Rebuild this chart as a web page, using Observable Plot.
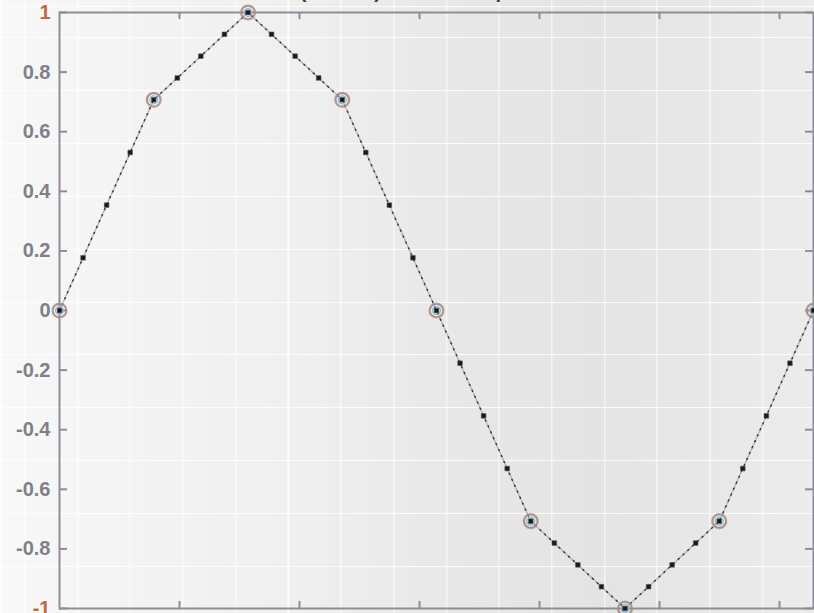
<!DOCTYPE html>
<html>
<head>
<meta charset="utf-8">
<script src="https://cdn.jsdelivr.net/npm/d3@7"></script>
<script src="https://cdn.jsdelivr.net/npm/@observablehq/plot@0.6"></script>
<style>
  html, body { margin: 0; padding: 0; }
  #chart {
    position: relative;
    width: 814px; height: 613px; overflow: hidden;
    background-color: #f2f2f2;
    background-image:
      repeating-linear-gradient(to right, rgba(255,255,255,0.85) 0 1px, transparent 1px 52.7px),
      repeating-linear-gradient(to bottom, rgba(255,255,255,0.85) 0 1px, transparent 1px 52.9px),
      linear-gradient(to right, #f8f8f8 0px, #f4f4f4 120px, #efefef 300px, #e7e7e7 470px, #e4e4e4 600px, #e8e8e8 720px, #ececec 814px);
    background-position: 24.3px 0, 0 37px, 0 0;
    font-family: "Liberation Sans", Arial, sans-serif;
  }
</style>
</head>
<body>
<div id="chart"></div>
<script>
// Original samples (x = 0 : pi/4 : 2pi, y = sin x)
const sampleX = [0, 0.7854, 1.5708, 2.3562, 3.1416, 3.9270, 4.7124, 5.4978, 6.2832];
const sampleY = [0, 0.7071, 1, 0.7071, 0, -0.7071, -1, -0.7071, 0];

// Query points (pi/16 steps) and their linearly interpolated values
const queryX = [0, 0.1963, 0.3927, 0.5890, 0.7854, 0.9817, 1.1781, 1.3744, 1.5708,
  1.7671, 1.9635, 2.1598, 2.3562, 2.5525, 2.7489, 2.9452, 3.1416,
  3.3379, 3.5343, 3.7306, 3.9270, 4.1233, 4.3197, 4.5160, 4.7124,
  4.9087, 5.1051, 5.3014, 5.4978, 5.6941, 5.8905, 6.0868, 6.2832];
const queryY = [0, 0.1768, 0.3536, 0.5303, 0.7071, 0.7803, 0.8536, 0.9268, 1,
  0.9268, 0.8536, 0.7803, 0.7071, 0.5303, 0.3536, 0.1768, 0,
  -0.1768, -0.3536, -0.5303, -0.7071, -0.7803, -0.8536, -0.9268, -1,
  -0.9268, -0.8536, -0.7803, -0.7071, -0.5303, -0.3536, -0.1768, 0];

// Axis ticks
const yTicks = [1, 0.8, 0.6, 0.4, 0.2, 0, -0.2, -0.4, -0.6, -0.8, -1];
const yTickLabels = ["1", "0.8", "0.6", "0.4", "0.2", "0", "-0.2", "-0.4", "-0.6", "-0.8", "-1"];
const xTicks = [1, 2, 3, 4, 5, 6];
const titleText = "(Default) Linear Interpolation";

const samples = sampleX.map((x, i) => ({x, y: sampleY[i]}));
const queries = queryX.map((x, i) => ({x, y: queryY[i]}));
const labelOf = new Map(yTicks.map((t, i) => [t, yTickLabels[i]]));

const axisGray = "#8d8d98";

const plot = Plot.plot({
  width: 814,
  height: 613,
  marginLeft: 59,
  marginRight: 1,
  marginTop: 12,
  marginBottom: 5,
  style: {background: "transparent", fontFamily: "'Liberation Sans', Arial, sans-serif", overflow: "visible"},
  x: {domain: [0, 6.2832], axis: null},
  y: {domain: [-1, 1], axis: null},
  marks: [
    // inward tick marks
    Plot.tickY(yTicks, {y: d => d, insetRight: 746, stroke: axisGray, strokeWidth: 2}),
    Plot.tickY(yTicks, {y: d => d, insetLeft: 746, stroke: axisGray, strokeWidth: 2}),
    Plot.tickX(xTicks, {x: d => d, insetBottom: 589, stroke: axisGray, strokeWidth: 2}),
    Plot.tickX(xTicks, {x: d => d, insetTop: 589, stroke: axisGray, strokeWidth: 2}),
    Plot.frame({stroke: axisGray, strokeWidth: 2}),
    Plot.axisY(yTicks, {
      anchor: "left", label: null, tickSize: 0, tickPadding: 9, fontSize: 20, fontWeight: "bold",
      fill: "#80808a", tickFormat: d => labelOf.get(d)
    }),
    // dotted interpolation line (MATLAB ':' style), doubled light/dark
    Plot.line(queries, {x: "x", y: "y", stroke: "#b8b8c0", strokeWidth: 1.6,
      strokeDasharray: "2,4.5", strokeDashoffset: 3.2, strokeLinecap: "square"}),
    Plot.line(queries, {x: "x", y: "y", stroke: "#3a3a40", strokeWidth: 1.6,
      strokeDasharray: "1.2,5.3", strokeLinecap: "round"}),
    // original sample markers
    Plot.dot(samples, {x: "x", y: "y", r: 7.5, stroke: "#d08a64", strokeWidth: 1.2, strokeOpacity: 0.8}),
    Plot.dot(samples, {x: "x", y: "y", r: 6.5, stroke: "#8f8f9a", strokeWidth: 1.3}),
    Plot.dot(samples, {x: "x", y: "y", r: 4, stroke: "#8fb6d2", strokeWidth: 1.2}),
    // query point markers ('.')
    Plot.dot(queries, {x: "x", y: "y", r: 2.6, symbol: "square", fill: "#1a1a1e", stroke: "#555", strokeWidth: 0.6}),
    // title (mostly above the visible area, as in the reference)
    Plot.text([titleText], {x: 3.1416, frameAnchor: "top", dy: -15, lineAnchor: "bottom",
      fontSize: 20, fontWeight: "bold", fill: "#3a3a3a", text: d => d})
  ]
});

d3.select(plot).selectAll("text")
  .filter(function() { const t = this.textContent; return t === "1" || t === "-1"; })
  .attr("fill", "#c0683e");

document.getElementById("chart").appendChild(plot);
</script>
</body>
</html>
